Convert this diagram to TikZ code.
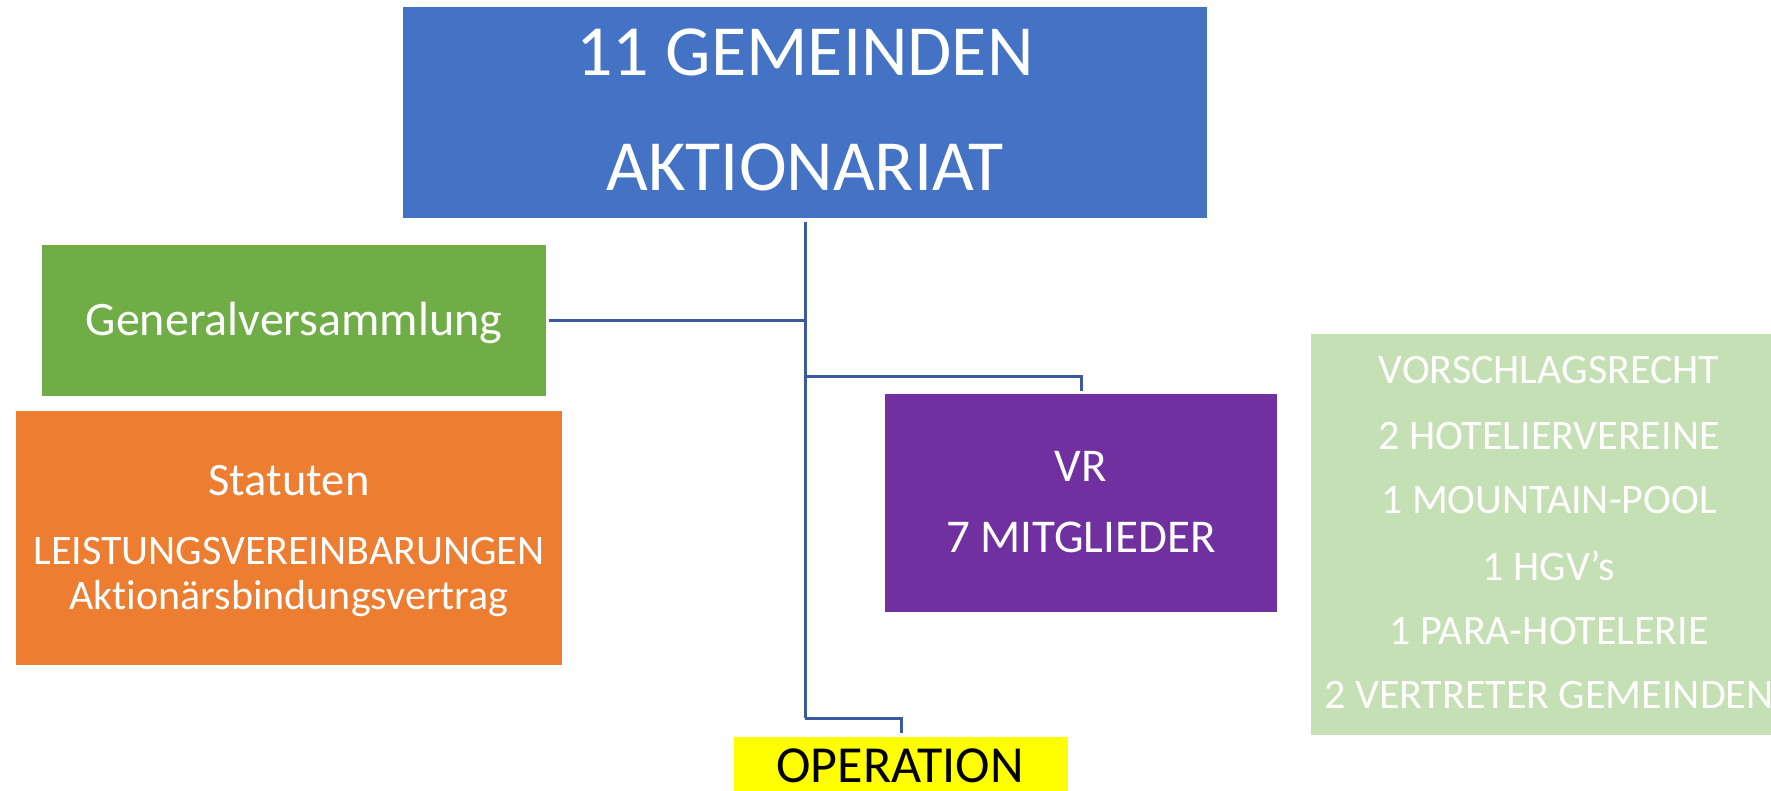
\documentclass[tikz,border=0pt]{standalone}
\usepackage{fontspec}
\setmainfont{Carlito}[Ligatures={NoCommon}]
\definecolor{cblue}{HTML}{4472C4}
\definecolor{cgreen}{HTML}{70AD47}
\definecolor{corange}{HTML}{ED7D31}
\definecolor{cpurple}{HTML}{7030A0}
\definecolor{clight}{HTML}{C5E0B4}
\definecolor{cyellow}{HTML}{FFFF00}
\definecolor{cline}{RGB}{59,89,160}
\tikzset{
  box/.style={rectangle, inner sep=0pt, outer sep=0pt},
  txt/.style={anchor=base, inner sep=0pt, text=white},
  conn/.style={draw=cline, line width=3pt},
}
\newcommand{\fs}[1]{\fontsize{#1}{#1}\selectfont}
\begin{document}
\begin{tikzpicture}[x=1pt,y=-1pt]
\useasboundingbox (0,0) rectangle (1771,791);
% boxes
\node[box, fill=cblue, minimum width=804pt, minimum height=211pt] (top) at (805,112.5) {};
\node[box, fill=cgreen, minimum width=504pt, minimum height=151pt] (gen) at (294,320.5) {};
\node[box, fill=corange, minimum width=546pt, minimum height=254pt] (stat) at (289,538) {};
\node[box, fill=cpurple, minimum width=392pt, minimum height=218pt] (vr) at (1081,503) {};
\node[box, fill=clight, minimum width=479pt, minimum height=401pt] (vor) at (1550.5,534.5) {};
\node[box, fill=cyellow, minimum width=334pt, minimum height=63pt] (op) at (901,768.5) {};
% texts
\node[txt, font=\fs{72}] (t1) at (805,76) {11 GEMEINDEN};
\node[txt, font=\fs{72}] (t2) at (805,191) {AKTIONARIAT};
\node[txt, font=\fs{48}] (g1) at (294,335) {Generalversammlung};
\node[txt, font=\fs{46.5}] (s1) at (289,495) {Statuten};
\node[txt, font=\fs{42}] (s2) at (289,564) {LEISTUNGSVEREINBARUNGEN};
\node[txt, font=\fs{42}] (s3) at (289,609) {Aktionärsbindungsvertrag};
\node[txt, font=\fs{47}] (v1) at (1081,481) {VR};
\node[txt, font=\fs{47}] (v2) at (1081,552) {7 MITGLIEDER};
\node[txt, font=\fs{42}] (r1) at (1549,383) {VORSCHLAGSRECHT};
\node[txt, font=\fs{42}] (r2) at (1549,449) {2 HOTELIERVEREINE};
\node[txt, font=\fs{42}] (r3) at (1549,513) {1 MOUNTAIN-POOL};
\node[txt, font=\fs{42}] (r4) at (1549,580) {1 HGV’s};
\node[txt, font=\fs{42}] (r5) at (1549,644) {1 PARA-HOTELERIE};
\node[txt, font=\fs{42}] (r6) at (1549,708) {2 VERTRETER GEMEINDEN};
\node[txt, font=\fs{52}, text=black] (o1) at (900,782) {OPERATION};
% connectors
\coordinate (j0) at (805,222);
\coordinate (j1) at (805,376);
\coordinate (j3) at (805,718);
\draw[conn] (j0) -- (j3);
\draw[conn, shorten <=3pt] (gen.east) -- (gen.east -| j0);
\draw[conn, shorten >=3pt] (j1) -| (vr.north);
\draw[conn, shorten >=4pt] (j3) -| (op.north);
\end{tikzpicture}
\end{document}
